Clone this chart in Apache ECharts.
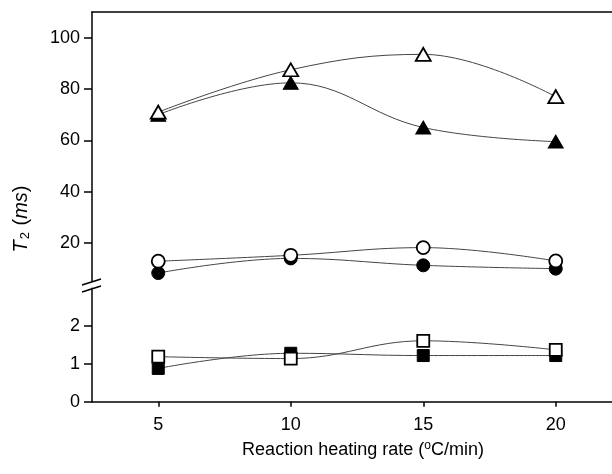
<!DOCTYPE html>
<html>
<head>
<meta charset="utf-8">
<script src="https://cdn.jsdelivr.net/npm/echarts@6/dist/echarts.min.js"></script>
<style>
html,body{margin:0;padding:0;background:#fff;}
#c{width:612px;height:474px;}
</style>
</head>
<body>
<div id="c"></div>
<script>
// Data
var rates = [5, 10, 15, 20];
var openTriangle = [71, 87.5, 93.5, 77];
var filledTriangle = [70, 82.4, 65, 59.5];
var openCircle = [12.9, 15.2, 18.2, 13];
var filledCircle = [8.3, 14, 11.3, 10];
var openSquare = [1.19, 1.14, 1.61, 1.37];
var filledSquare = [0.88, 1.28, 1.22, 1.22];
var xTicks = [5, 10, 15, 20];
var upperTicks = [20, 40, 60, 80, 100];
var upperMinor = [10, 30, 50, 70, 90];
var lowerTicks = [0, 1, 2];
var lowerMinor = [0.5, 1.5, 2.5];

function pairs(ys) { return rates.map(function (x, i) { return [x, ys[i]]; }); }

var FONT = '"Liberation Sans", Arial, sans-serif';
var FS = 18;
var lineStyle = { color: '#444', width: 1 };

function mk(name, data, grid, symbol, size, open) {
  return {
    name: name, type: 'line', xAxisIndex: grid, yAxisIndex: grid === 0 ? 0 : 2,
    data: pairs(data), smooth: 0.4, symbol: symbol, symbolSize: size,
    showSymbol: true, animation: false, z: open ? 3 : 2, clip: false,
    lineStyle: lineStyle,
    itemStyle: open ? { color: '#fff', borderColor: '#000', borderWidth: 1.8 }
                    : { color: '#000', borderColor: '#000', borderWidth: 1 }
  };
}

var chart = echarts.init(document.getElementById('c'), null, { renderer: 'canvas' });
var axisLineStyle = { color: '#000', width: 1.5 };
chart.setOption({
  animation: false,
  grid: [
    { left: 92, width: 530, top: 12, height: 269.5, containLabel: false, outerBoundsMode: 'none' },
    { left: 92, width: 530, top: 288.2, height: 113.5, containLabel: false, outerBoundsMode: 'none' }
  ],
  xAxis: [
    { type: 'value', gridIndex: 0, min: 2.5, max: 22.5, position: 'top',
      axisLine: { show: true, lineStyle: axisLineStyle }, axisTick: { show: false },
      axisLabel: { show: false }, splitLine: { show: false } },
    { type: 'value', gridIndex: 1, min: 2.5, max: 22.5, position: 'bottom',
      axisLine: { show: true, lineStyle: axisLineStyle },
      axisTick: { show: true, inside: false, length: 5, customValues: xTicks, lineStyle: axisLineStyle },
      axisLabel: { customValues: xTicks, color: '#000', fontFamily: FONT, fontSize: FS, margin: 14 },
      splitLine: { show: false },
      name: 'Reaction heating rate ({sup|o}C/min)', nameLocation: 'middle', nameGap: 38,
      nameTextStyle: { color: '#000', fontFamily: FONT, fontSize: FS, padding: [0, 0, 0, 12],
        rich: { sup: { fontFamily: FONT, fontSize: 12, padding: [0, 0, 8, 0], color: '#000' } } }
    }
  ],
  yAxis: [
    { type: 'value', gridIndex: 0, min: 5, max: 110,
      axisLine: { show: true, lineStyle: axisLineStyle },
      axisTick: { show: true, length: 8, customValues: upperTicks, lineStyle: axisLineStyle },
      axisLabel: { customValues: upperTicks, color: '#000', fontFamily: FONT, fontSize: FS, margin: 12 },
      splitLine: { show: false } },
    { type: 'value', gridIndex: 0, min: 5, max: 110,
      axisLine: { show: false },
      axisTick: { show: true, length: 4, customValues: upperMinor, lineStyle: axisLineStyle },
      axisLabel: { show: false }, splitLine: { show: false } },
    { type: 'value', gridIndex: 1, min: 0, max: 3,
      axisLine: { show: true, lineStyle: axisLineStyle },
      axisTick: { show: true, length: 8, customValues: lowerTicks, lineStyle: axisLineStyle },
      axisLabel: { customValues: lowerTicks, color: '#000', fontFamily: FONT, fontSize: FS, margin: 12 },
      splitLine: { show: false } },
    { type: 'value', gridIndex: 1, min: 0, max: 3,
      axisLine: { show: false },
      axisTick: { show: true, length: 4, customValues: lowerMinor, lineStyle: axisLineStyle },
      axisLabel: { show: false }, splitLine: { show: false } }
  ],
  graphic: [
    { type: 'line', shape: { x1: 82, y1: 285, x2: 101, y2: 279 }, style: { stroke: '#000', lineWidth: 1.5 }, z: 10 },
    { type: 'line', shape: { x1: 82, y1: 292, x2: 101, y2: 286 }, style: { stroke: '#000', lineWidth: 1.5 }, z: 10 },
    { type: 'text', x: 21, y: 219, rotation: Math.PI / 2,
      style: { text: '{i|T}{sub|2} ({i|ms})', fill: '#000', font: '20px ' + FONT, align: 'center', verticalAlign: 'middle',
        rich: { i: { fontStyle: 'italic', fontFamily: FONT, fontSize: 20 },
                sub: { fontFamily: FONT, fontSize: 13, padding: [9, 1, 0, 1] } } } }
  ],
  series: [
    mk('filledTriangle', filledTriangle, 0, 'triangle', [15, 13], false),
    mk('openTriangle', openTriangle, 0, 'triangle', [15, 13], true),
    mk('filledCircle', filledCircle, 0, 'circle', 13, false),
    mk('openCircle', openCircle, 0, 'circle', 13, true),
    mk('filledSquare', filledSquare, 1, 'rect', 12, false),
    mk('openSquare', openSquare, 1, 'rect', 12, true)
  ]
});
</script>
</body>
</html>
